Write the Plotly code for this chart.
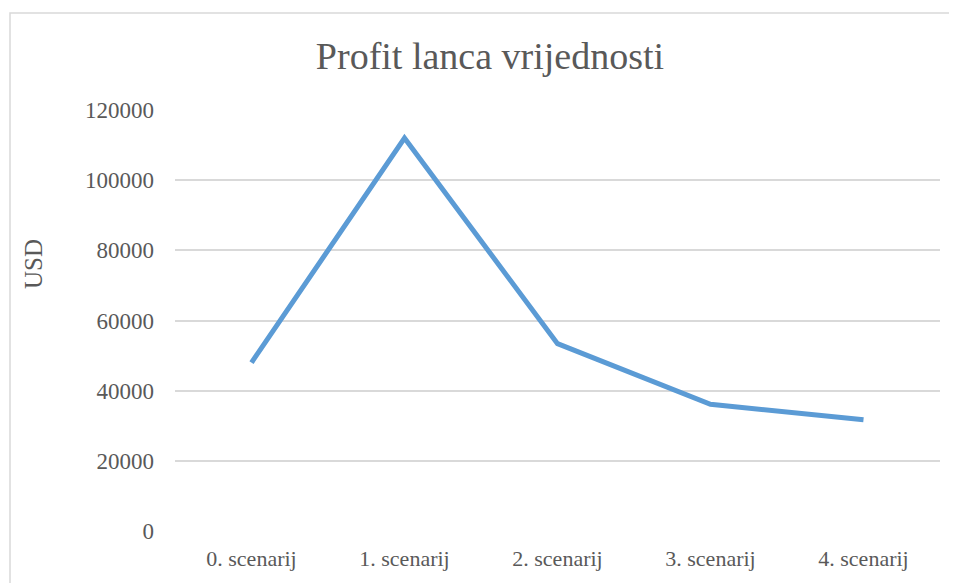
import plotly.graph_objects as go

categories = ["0. scenarij", "1. scenarij", "2. scenarij", "3. scenarij", "4. scenarij"]
profit = [48000, 112000, 53400, 36100, 31700]
y_ticks = [0, 20000, 40000, 60000, 80000, 100000, 120000]

OFF = 8  # page body margin
W, H = 957 - OFF, 583 - OFF
L, R, T, B = 175 - OFF, 17, 110 - OFF, 52
pw = W - L - R
ph = H - T - B

TEXT = "#595959"
FONT = "Liberation Serif"

fig = go.Figure()
fig.add_trace(go.Scatter(
    x=categories, y=profit, mode="lines",
    line=dict(color="#5B9BD5", width=5),
    hoverinfo="x+y", showlegend=False,
))

fig.update_layout(
    width=W, height=H,
    margin=dict(l=L, r=R, t=T, b=B),
    paper_bgcolor="white", plot_bgcolor="white",
    font=dict(family=FONT, color=TEXT, size=22),
    title=dict(text="Profit lanca vrijednosti", x=(490 - OFF) / W, xanchor="center",
               y=1 - (56 - OFF) / H, yanchor="middle",
               font=dict(size=38, family=FONT, color=TEXT)),
    xaxis=dict(type="category", range=[-0.5, 4.5], showgrid=False, zeroline=False,
               showline=False, ticks="", ticklabelstandoff=12,
               tickfont=dict(size=22, family=FONT, color=TEXT)),
    yaxis=dict(range=[0, 120000], tickvals=y_ticks, ticktext=[str(v) for v in y_ticks],
               showgrid=True, gridcolor="#D9D9D9", gridwidth=1.5, zeroline=False,
               showline=False, ticks="", ticklabelstandoff=20,
               tickfont=dict(size=23, family=FONT, color=TEXT)),
)

fig.add_annotation(text="USD", xref="paper", yref="paper",
                   x=(33 - 175) / pw, y=(531 - 264) / ph,
                   xanchor="center", yanchor="middle", textangle=-90,
                   showarrow=False, font=dict(size=25, family=FONT, color=TEXT))

fig.add_shape(type="rect", xref="paper", yref="paper",
              x0=(10 - 175) / pw, x1=(957 + 20 - 175) / pw,
              y0=-100 / ph, y1=(531 - 13) / ph,
              line=dict(color="#D9D9D9", width=1.5), fillcolor="rgba(0,0,0,0)", layer="below")

fig.write_html("out.html")
